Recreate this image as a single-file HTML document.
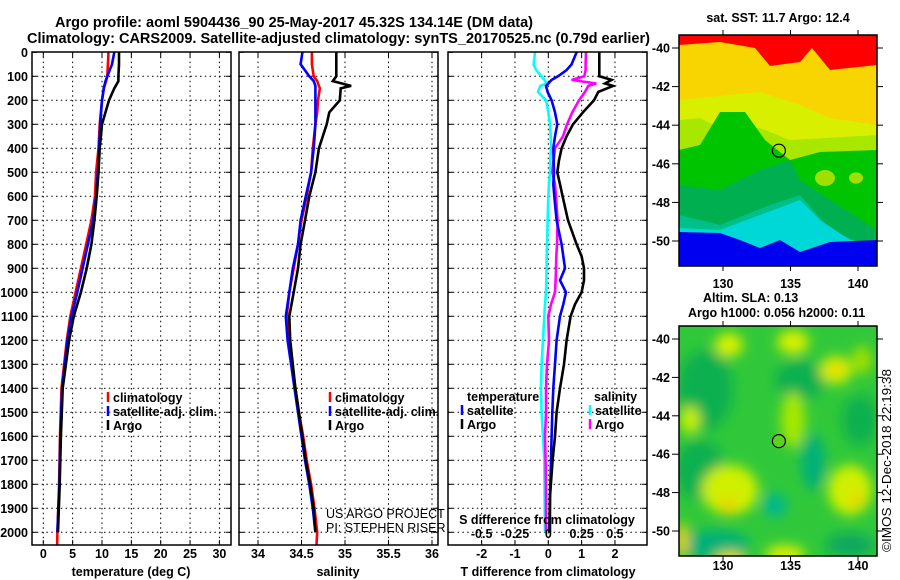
<!DOCTYPE html>
<html><head><meta charset="utf-8"><style>
html,body{margin:0;padding:0;background:#fff;}
svg{display:block;font-family:"Liberation Sans",sans-serif;}
.tk{font-size:12.5px;font-weight:bold;fill:#000;}
.lg{font-size:12.5px;font-weight:bold;fill:#000;}
.ttl{font-size:14.5px;font-weight:bold;fill:#000;}
.grid{stroke:#000;stroke-width:1;stroke-dasharray:1.5,3.3;fill:none;}
</style></head><body>
<svg id="chart" width="900" height="580" viewBox="0 0 900 580">
<defs>
<clipPath id="clip1"><rect x="32" y="52" width="199" height="493"/></clipPath>
<clipPath id="clip2"><rect x="239" y="52" width="199" height="493"/></clipPath>
<clipPath id="clip3"><rect x="448" y="52" width="199" height="493"/></clipPath>
<clipPath id="clipM1"><rect x="679" y="35" width="198" height="231"/></clipPath>
<clipPath id="clipM2"><rect x="679" y="326" width="198" height="230"/></clipPath>
<filter id="blur" x="-20%" y="-20%" width="140%" height="140%"><feGaussianBlur stdDeviation="6"/></filter>
</defs>
<text class="ttl" x="55" y="27" textLength="478" lengthAdjust="spacingAndGlyphs">Argo profile: aoml 5904436_90 25-May-2017 45.32S 134.14E (DM data)</text>
<text class="ttl" x="27" y="43" textLength="623" lengthAdjust="spacingAndGlyphs">Climatology: CARS2009. Satellite-adjusted climatology: synTS_20170525.nc (0.79d earlier)</text>
<g id="panels"></g>
<g id="maps"></g>
<text x="891" y="552" transform="rotate(-90 891 552)" style="font-size:13px;fill:#000" textLength="183" lengthAdjust="spacingAndGlyphs">©IMOS 12-Dec-2018 22:19:38</text>
</svg>
<script>
// ---- data ----
const depthTicks=[0,100,200,300,400,500,600,700,800,900,1000,1100,1200,1300,1400,1500,1600,1700,1800,1900,2000];
const tempTicks=[0,5,10,15,20,25,30];
const salTicks=[34,34.5,35,35.5,36];
const salTickLabels=["34","34.5","35","35.5","36"];
const tdTicks=[-2,-1,0,1,2];
const sdTicks=[-0.5,-0.25,0,0.25,0.5];
const sdTickLabels=["-0.5","-0.25","0","0.25","0.5"];

const tempDepth=[0,50,100,120,150,200,300,400,500,600,700,800,900,1000,1100,1200,1400,1600,1800,2000];
const tempArgo=[12.9,12.9,12.8,12.8,12.1,11.2,10.0,9.6,9.4,9.1,8.7,8.2,7.4,6.4,5.2,4.4,3.3,3.0,2.8,2.5];
const tempClim=[11.1,11.0,10.9,10.7,10.3,10.0,9.6,9.4,9.0,8.8,8.2,7.3,6.4,5.5,4.6,4.0,3.1,2.85,2.7,2.4];
const tempSat=[12.1,11.7,10.9,10.6,10.3,10.0,9.7,9.5,9.3,9.0,8.5,7.6,6.7,5.8,4.8,4.1,3.2,2.9,2.75,2.4];

const salDepth=[0,50,100,120,140,150,200,250,300,400,500,600,700,800,900,1000,1100,1200,1300,1400,1500,1600,1700,1800,1900,2000];
const salArgo=[34.90,34.90,34.90,34.86,35.07,34.95,34.94,34.82,34.79,34.70,34.66,34.59,34.54,34.49,34.46,34.41,34.36,34.37,34.40,34.43,34.47,34.51,34.55,34.60,34.64,34.66];
const salClim=[34.62,34.62,34.64,34.68,34.70,34.71,34.69,34.68,34.66,34.63,34.61,34.56,34.50,34.46,34.41,34.36,34.33,34.35,34.39,34.43,34.47,34.52,34.56,34.61,34.65,34.68];
const salSat=[34.51,34.49,34.59,34.64,34.66,34.66,34.66,34.66,34.66,34.64,34.61,34.55,34.49,34.46,34.40,34.36,34.32,34.34,34.38,34.42,34.46,34.50,34.54,34.59,34.63,34.66];

const diffDepth=[0,50,75,100,115,130,140,165,200,250,300,350,400,450,500,550,600,700,800,850,900,950,1000,1050,1100,1200,1300,1400,1500,1600,1700,1850,2000];
const dtArgo=[1.53,1.53,1.53,1.53,1.9,1.7,1.94,1.5,1.37,1.04,0.74,0.55,0.40,0.32,0.27,0.35,0.43,0.59,0.85,1.0,1.07,1.07,1.0,0.8,0.67,0.55,0.47,0.35,0.25,0.20,0.13,0.05,0.03];
const dtSat=[0.85,0.70,0.54,0.29,0.1,0.0,-0.07,-0.02,0.1,0.2,0.27,0.2,0.15,0.16,0.17,0.15,0.18,0.25,0.40,0.45,0.50,0.35,0.53,0.45,0.35,0.25,0.2,0.15,0.12,0.1,0.08,0.05,0.05];
const dsArgo=[0.283,0.28,0.28,0.27,0.175,0.36,0.30,0.275,0.23,0.18,0.14,0.11,0.05,0.04,0.03,0.05,0.058,0.07,0.065,0.06,0.058,0.055,0.05,0.02,0.0,0.005,-0.01,-0.017,-0.017,-0.025,-0.02,-0.017,-0.017];
const dsSat=[-0.1,-0.11,-0.09,-0.05,-0.03,-0.01,-0.06,-0.077,-0.017,0.0,0.013,0.018,0.02,0.015,0.013,0.005,0,-0.005,-0.01,-0.012,-0.013,-0.015,-0.017,-0.025,-0.03,-0.04,-0.05,-0.055,-0.05,-0.04,-0.03,-0.028,-0.025];

const latTicks=[-40,-42,-44,-46,-48,-50];
const lonTicks=[130,135,140];
const argoLon=134.14, argoLat=-45.32;

// ---- axes ----
const NS="http://www.w3.org/2000/svg";
const yD=d=>52.3+0.24*d;
const xT=t=>43.3+5.87*t;
const xS=s=>258+87*(s-34);
const xDT=t=>548.3+33.33*t;
const xDS=s=>548.3+133.3*s;
function el(tag,attrs,parent,txt){const e=document.createElementNS(NS,tag);for(const k in attrs)e.setAttribute(k,attrs[k]);if(txt!==undefined)e.textContent=txt;parent.appendChild(e);return e;}
const P=document.getElementById('panels');

function panel(x0,w,clip,name){
  const g=el('g',{},P);
  
  
  depthTicks.forEach(d=>{if(d>0){const l=el('line',{x1:x0,x2:x0+w,y1:yD(d),y2:yD(d),class:'grid'},g);}
    const t=el('line',{x1:x0,x2:x0+5,y1:yD(d),y2:yD(d),stroke:'#000'},g);
    const t2=el('line',{x1:x0+w-5,x2:x0+w,y1:yD(d),y2:yD(d),stroke:'#000'},g);});
  return g;
}
function vgrid(g,xs,ys,name){xs.forEach(x=>{const l=el('line',{x1:x,x2:x,y1:52,y2:545,class:'grid'},g);
  const t=el('line',{x1:x,x2:x,y1:545,y2:540,stroke:'#000'},g);
  const t2=el('line',{x1:x,x2:x,y1:52,y2:57,stroke:'#000'},g);});}
function frame(g,x0,w){const r=el('rect',{x:x0,y:52,width:w,height:493,fill:'none',stroke:'#000','stroke-width':1.5},g);}
function line(g,depths,vals,xf,color,clip,name){
  const pts=depths.map((d,i)=>xf(vals[i]).toFixed(1)+','+yD(d).toFixed(1)).join(' ');
  const p=el('polyline',{points:pts,fill:'none',stroke:color,'stroke-width':2.6,'stroke-linejoin':'miter','clip-path':'url(#'+clip+')'},g);
  
  
}
function legend(g,x,y,color,txt,name){
  const b=el('line',{x1:x,x2:x,y1:y-10,y2:y,stroke:color,'stroke-width':2.5},g);
  
  const t=el('text',{x:x+5,y:y,class:'lg'},g,txt);
  
}
function text(g,x,y,txt,name,anchor,cls,extra){const t=el('text',Object.assign({x:x,y:y,class:cls||'tk','text-anchor':anchor||'middle'},extra||{}),g,txt);return t;}

// Panel 1 temperature
const g1=panel(32,199,'clip1','temperature-panel');
vgrid(g1,tempTicks.map(xT),null,'temp-gridline');
depthTicks.forEach(d=>text(g1,28,yD(d)+4.5,String(d),'depth-tick-label','end'));
tempTicks.forEach(t=>text(g1,xT(t),558,String(t),'temp-tick-label'));
text(g1,131,576,'temperature (deg C)','temperature-axis-title');
line(g1,tempDepth.concat([2065]),tempClim.concat([2.35]),xT,'#ff0000','clip1','temp-climatology-line');
line(g1,tempDepth,tempSat,xT,'#0000ff','clip1','temp-satellite-line');
line(g1,tempDepth,tempArgo,xT,'#000000','clip1','temp-argo-line');
legend(g1,108,402,'#ff0000','climatology','legend-climatology');
legend(g1,108,416,'#0000ff','satellite-adj. clim.','legend-satellite');
legend(g1,108,430,'#000000','Argo','legend-argo');
frame(g1,32,199);

// Panel 2 salinity
const g2=panel(239,199,'clip2','salinity-panel');
vgrid(g2,salTicks.map(xS),null,'sal-gridline');
salTicks.forEach((s,i)=>text(g2,xS(s),558,salTickLabels[i],'sal-tick-label'));
text(g2,338,576,'salinity','salinity-axis-title');
line(g2,salDepth.concat([2065]),salClim.concat([34.67]),xS,'#ff0000','clip2','sal-climatology-line');
line(g2,salDepth,salSat,xS,'#0000ff','clip2','sal-satellite-line');
line(g2,salDepth,salArgo,xS,'#000000','clip2','sal-argo-line');
legend(g2,330,402,'#ff0000','climatology','legend-climatology');
legend(g2,330,416,'#0000ff','satellite-adj. clim.','legend-satellite');
legend(g2,330,430,'#000000','Argo','legend-argo');
text(g2,326,518,'US ARGO PROJECT','credit-project','start','tk',{style:'font-weight:normal;font-size:12.5px'});
text(g2,326,532,'PI: STEPHEN RISER','credit-pi','start','tk',{style:'font-weight:normal;font-size:12.5px'});
frame(g2,239,199);

// Panel 3 differences
const g3=panel(448,199,'clip3','difference-panel');
vgrid(g3,tdTicks.map(xDT),null,'diff-gridline');
tdTicks.forEach(t=>text(g3,xDT(t),558,String(t),'t-diff-tick-label'));
text(g3,548,576,'T difference from climatology','t-diff-axis-title');
line(g3,diffDepth,dsSat,xDS,'#00ffff','clip3','s-diff-satellite-line');
line(g3,diffDepth,dsArgo,xDS,'#ff00ff','clip3','s-diff-argo-line');
line(g3,diffDepth,dtSat,xDT,'#0000ff','clip3','t-diff-satellite-line');
line(g3,diffDepth,dtArgo,xDT,'#000000','clip3','t-diff-argo-line');
text(g3,467,401,'temperature','legend-temperature-header','start','lg');
legend(g3,462,415,'#0000ff','satellite','legend-t-satellite');
legend(g3,462,429,'#000000','Argo','legend-t-argo');
text(g3,594,401,'salinity','legend-salinity-header','start','lg');
legend(g3,590,415,'#00ffff','satellite','legend-s-satellite');
legend(g3,590,429,'#ff00ff','Argo','legend-s-argo');
text(g3,547,524,'S difference from climatology','s-diff-axis-title');
sdTicks.forEach((s,i)=>text(g3,xDS(s),538,sdTickLabels[i],'s-diff-tick-label'));
frame(g3,448,199);

// ---- maps ----
const M=document.getElementById('maps');
const mx=lon=>723+13.5*(lon-130);
const my1=lat=>48+19.3*(-40-lat);
const my2=lat=>339+19.2*(-40-lat);
function mapAxes(g,top,bot,myf,labY){
  latTicks.forEach(l=>{const y=myf(l);
    const a=el('line',{x1:672,x2:679,y1:y,y2:y,stroke:'#000'},g);
    const b=el('line',{x1:877,x2:883,y1:y,y2:y,stroke:'#000'},g);
    text(g,670,y+4.5,String(l),'lat-tick-label','end');});
  lonTicks.forEach(l=>{const x=mx(l);
    const a=el('line',{x1:x,x2:x,y1:top-5,y2:top,stroke:'#000'},g);
    const b=el('line',{x1:x,x2:x,y1:bot,y2:bot+5,stroke:'#000'},g);
    text(g,x,labY,String(l),'lon-tick-label');});
  const r=el('rect',{x:679,y:top,width:198,height:bot-top,fill:'none',stroke:'#000','stroke-width':1.5},g);
}
// SST map
const gm1=el('g',{'clip-path':'url(#clipM1)'},M);

const sstShapes=[
 ['#ff0000','679,35 877,35 877,266 679,266'],
 ['#f8d400','679,45 720,42 755,48 770,66 800,62 812,48 830,70 877,65 877,266 679,266'],
 ['#d8f000','679,100 720,96 760,92 800,105 830,118 877,125 877,266 679,266'],
 ['#a8e800','679,120 700,118 720,128 760,128 790,140 877,135 877,266 679,266'],
 ['#00c400','679,150 700,145 720,112 745,112 765,140 790,160 820,152 877,150 877,266 679,266'],
 ['#00b050','679,185 720,190 760,170 790,160 800,180 877,230 877,266 679,266'],
 ['#00c08a','679,215 720,225 770,205 800,195 830,230 877,250 877,266 679,266'],
 ['#00d8d8','679,228 720,230 760,215 800,200 820,220 850,240 877,245 877,266 679,266'],
 ['#0000f0','679,232 720,233 740,240 760,248 780,240 800,252 830,242 877,240 877,266 679,266']
];
sstShapes.forEach(s=>{const p=el('polygon',{points:s[1],fill:s[0]},gm1);});
[[825,178,10,'#a0e000'],[856,178,7,'#a0e000']].forEach(b=>{const c=el('ellipse',{cx:b[0],cy:b[1],rx:b[2],ry:b[2]*0.8,fill:b[3]},gm1);});
const c1=el('circle',{cx:mx(argoLon),cy:my1(argoLat),r:6.5,fill:'none',stroke:'#000','stroke-width':1.2},M);

mapAxes(M,35,266,my1,288);
text(M,778,22,'sat. SST: 11.7 Argo: 12.4','sst-map-title','middle','lg');

// SLA map
const gm2=el('g',{'clip-path':'url(#clipM2)'},M);

const bg=el('rect',{x:679,y:326,width:198,height:230,fill:'#30c83a'},gm2);
const gb=el('g',{filter:'url(#blur)'},gm2);
const blobs=[
 [705,390,28,40,'#10b050'],[800,380,25,20,'#10b050'],[860,420,18,25,'#10b050'],[700,470,25,30,'#10b050'],[813,462,12,28,'#00b078'],[775,505,12,12,'#00b890'],[715,545,35,15,'#00b078'],[850,545,25,12,'#10a860'],
 [729,345,14,12,'#d8f000'],[793,342,16,12,'#d8f000'],[836,370,16,14,'#d8f000'],[836,370,6,6,'#f0d000'],[690,420,10,14,'#c8f000'],[730,490,28,25,'#d0f000'],[728,505,8,8,'#f0d000'],[850,490,22,25,'#d0f000'],[856,500,6,6,'#f0c800'],[793,420,12,28,'#a8e800'],[785,555,20,10,'#d8f000'],[730,560,16,8,'#e8e000'],[682,540,6,18,'#f0d000'],[862,360,10,14,'#a0e000']
];
blobs.forEach(b=>{const e=el('ellipse',{cx:b[0],cy:b[1],rx:b[2],ry:b[3],fill:b[4]},gb);});
const c2=el('circle',{cx:mx(argoLon),cy:my2(argoLat),r:6.5,fill:'#60d020',stroke:'#000','stroke-width':1.2},M);

mapAxes(M,326,556,my2,570);
text(M,703,302,'Altim. SLA: 0.13','sla-map-title','start','lg');
text(M,688,317,'Argo h1000: 0.056 h2000: 0.11','sla-map-subtitle','start','lg');
</script>
</body></html>
